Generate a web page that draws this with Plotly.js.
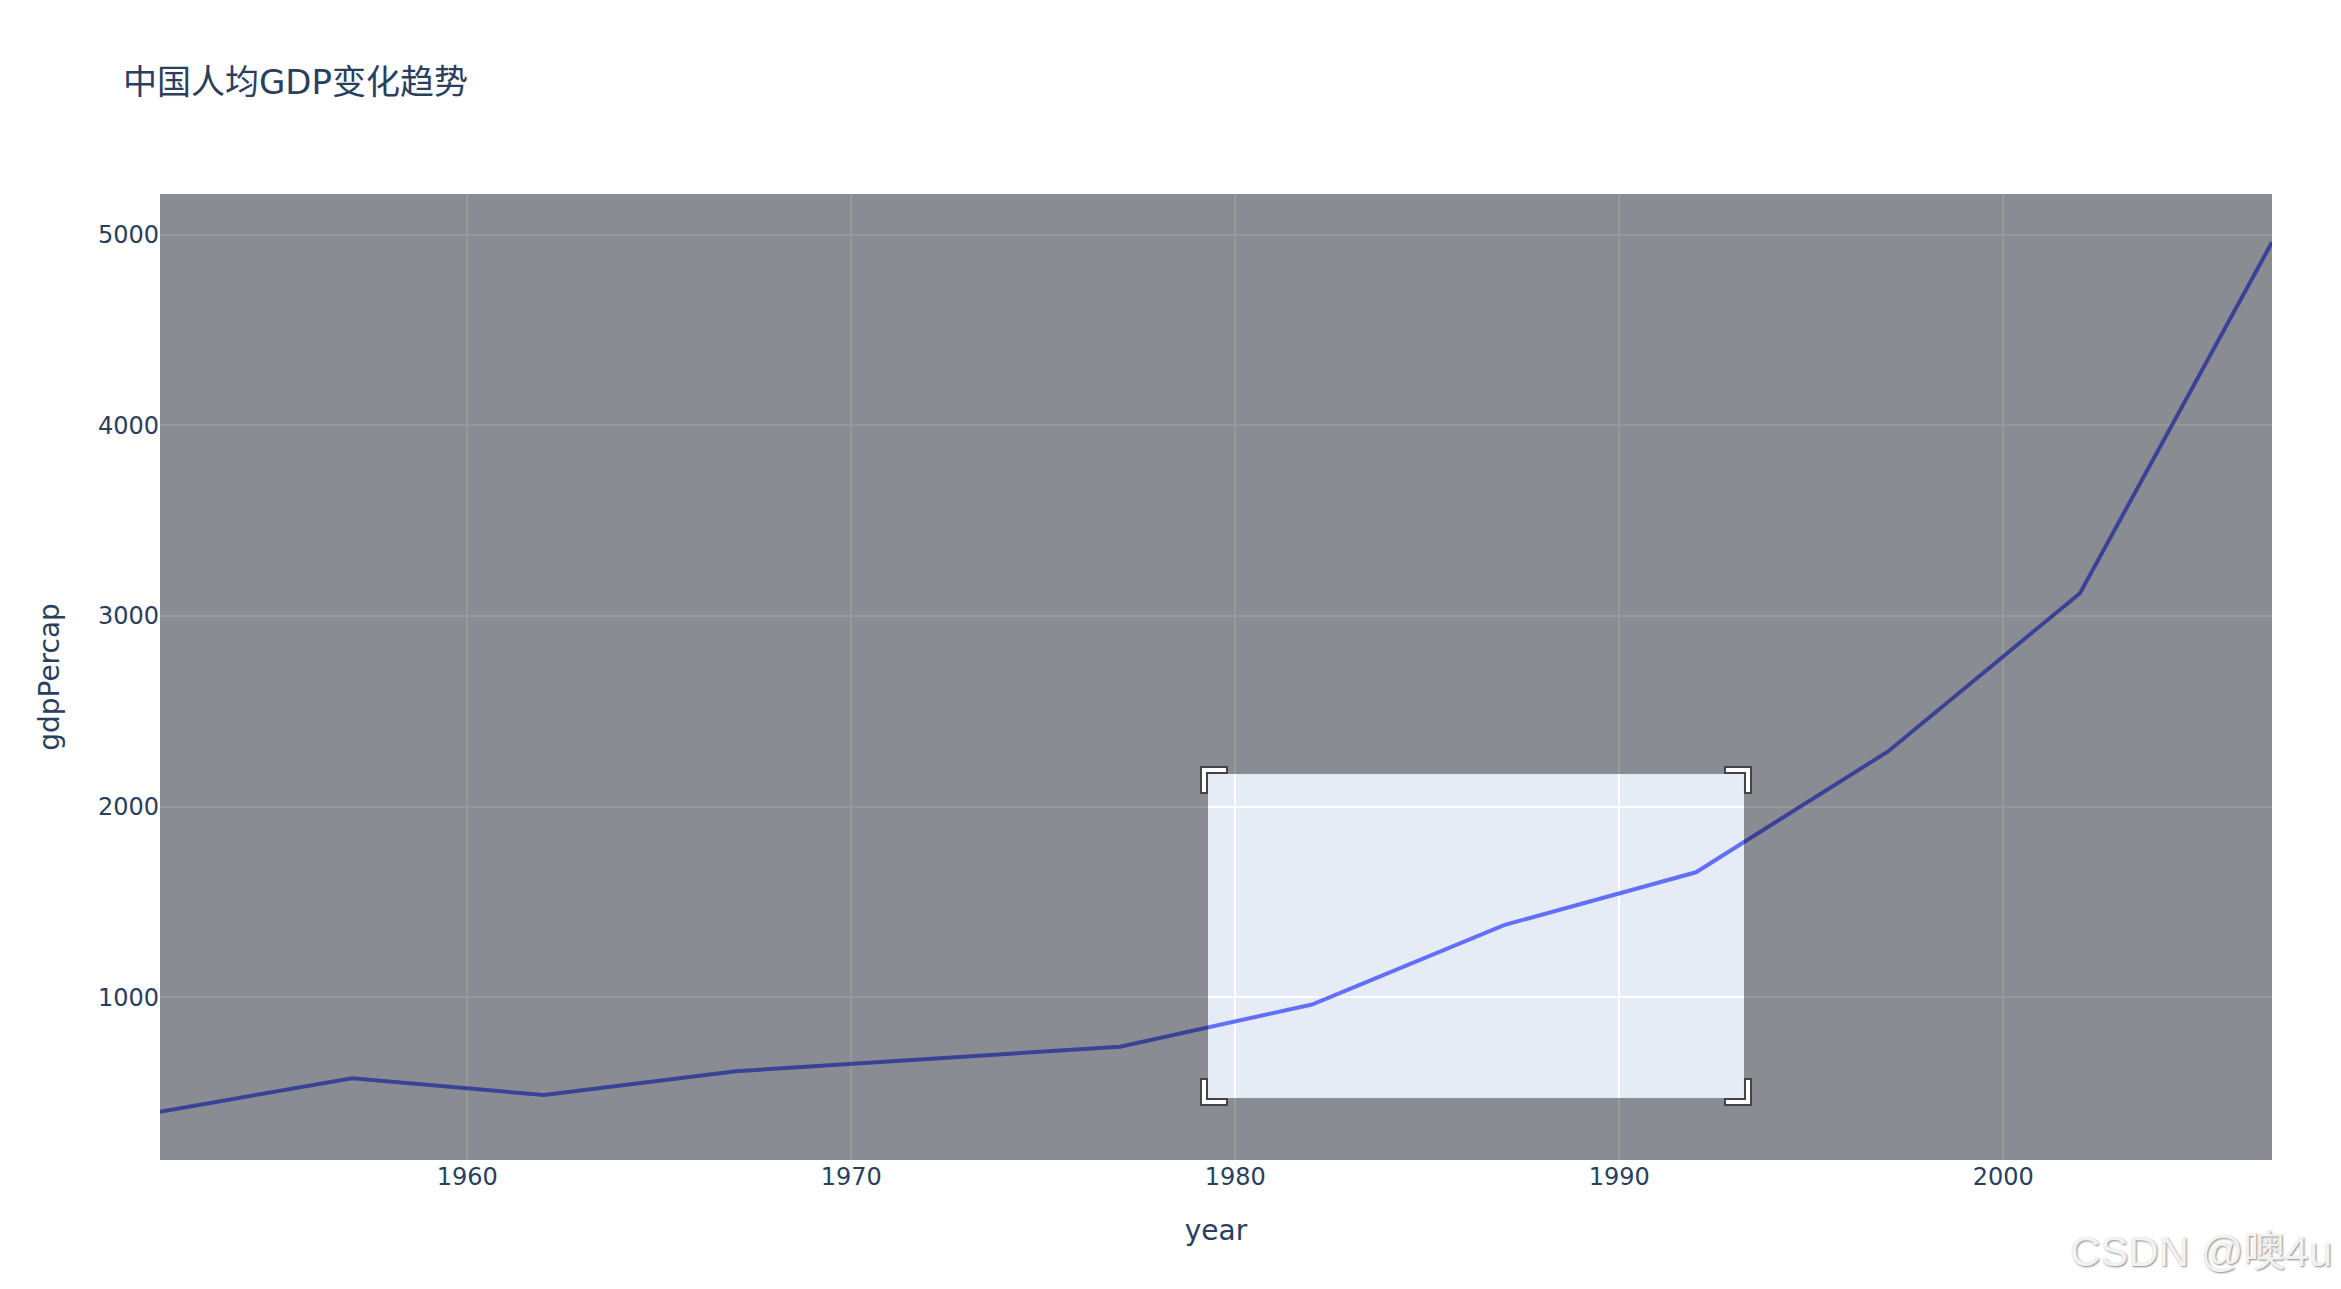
<!DOCTYPE html>
<html>
<head>
<meta charset="utf-8">
<script src="https://cdn.plot.ly/plotly-3.0.1.min.js"></script>
<style>html,body{margin:0;padding:0;background:#fff;}#chart{width:2341px;height:1289px;}</style>
</head>
<body>
<div id="chart"></div>
<script>
// Data: China GDP per capita (gapminder)
var years = [1952, 1957, 1962, 1967, 1972, 1977, 1982, 1987, 1992, 1997, 2002, 2007];
var gdpPercap = [400.45, 575.99, 487.67, 612.71, 676.90, 741.24, 962.42, 1378.90, 1655.78, 2289.23, 3119.28, 4959.11];
var titleText = '中国人均GDP变化趋势';
var xTitle = 'year';
var yTitle = 'gdpPercap';
var watermark = 'CSDN @噢4u';

// layout geometry (pixels)
var W = 2341, H = 1289;
var M = {l: 160, r: 69, t: 194, b: 129};
var PW = W - M.l - M.r, PH = H - M.t - M.b;
// zoom-drag box in pixel coordinates
var box = {l: 1208, t: 774, r: 1744, b: 1098};
var S = 2;

function px(x) { return ((x - M.l) / PW).toFixed(5); }
function py(y) { return ((M.t + PH - y) / PH).toFixed(5); }
function pathFrom(points) {
  return points.map(function (p, i) { return (i ? 'L' : 'M') + px(p[0]) + ',' + py(p[1]); }).join('') + 'Z';
}
// Plotly xy corner brackets
function corners(b) {
  var c = 10 * S, a = 3.5 * S, h = 0.5 * S, k = 3 * S;
  var tl = [[b.l - a, b.t - h + c], [b.l - a + k, b.t - h + c], [b.l - a + k, b.t - h], [b.l - a + k + c, b.t - h], [b.l - a + k + c, b.t - h - k], [b.l - a, b.t - h - k]];
  var tr = [[b.r + a, b.t - h + c], [b.r + a - k, b.t - h + c], [b.r + a - k, b.t - h], [b.r + a - k - c, b.t - h], [b.r + a - k - c, b.t - h - k], [b.r + a, b.t - h - k]];
  var br = [[b.r + a, b.b + h - c], [b.r + a - k, b.b + h - c], [b.r + a - k, b.b + h], [b.r + a - k - c, b.b + h], [b.r + a - k - c, b.b + h + k], [b.r + a, b.b + h + k]];
  var bl = [[b.l - a, b.b + h - c], [b.l - a + k, b.b + h - c], [b.l - a + k, b.b + h], [b.l - a + k + c, b.b + h], [b.l - a + k + c, b.b + h + k], [b.l - a, b.b + h + k]];
  return [tl, tr, br, bl].map(pathFrom).join(' ');
}

var dimPath = 'M0,0L1,0L1,1L0,1Z ' + pathFrom([[box.l, box.b], [box.r, box.b], [box.r, box.t], [box.l, box.t]]);

var fontFam = 'Verdana, "DejaVu Sans", "Noto Sans CJK SC", sans-serif';

var trace = {
  type: 'scatter', mode: 'lines',
  x: years, y: gdpPercap,
  line: {color: '#636efa', width: 2 * S},
  hoverinfo: 'skip'
};

var layout = {
  width: W, height: H,
  margin: M,
  paper_bgcolor: '#ffffff',
  plot_bgcolor: '#E5ECF6',
  font: {family: fontFam, color: '#2a3f5f', size: 12 * S},
  title: {text: titleText, font: {size: 17 * S, color: '#2a3f5f'}, x: 123 / W, xanchor: 'left', xref: 'container',
          y: (H - 82) / H, yanchor: 'middle', yref: 'container', automargin: false},
  showlegend: false,
  xaxis: {
    title: {text: xTitle, font: {size: 14 * S}, standoff: 30},
    tick0: 1960, dtick: 10, showgrid: true, gridcolor: '#ffffff', gridwidth: 1 * S,
    zeroline: false, automargin: false, tickfont: {size: 12 * S}, ticks: ''
  },
  yaxis: {
    title: {text: yTitle, font: {size: 14 * S}, standoff: 30},
    dtick: 1000, showgrid: true, gridcolor: '#ffffff', gridwidth: 1 * S,
    zeroline: false, automargin: false, tickfont: {size: 12 * S}, ticks: ''
  },
  shapes: [
    {type: 'path', xref: 'paper', yref: 'paper', path: dimPath, fillrule: 'evenodd', fillcolor: 'rgba(0,0,0,0.4)', line: {width: 0}, layer: 'above'},
    {type: 'path', xref: 'paper', yref: 'paper', path: corners(box), fillcolor: '#ffffff', line: {color: '#444444', width: 1 * S}, layer: 'above'}
  ],
  annotations: [
    {text: watermark, xref: 'paper', yref: 'paper', x: (2334 - M.l) / PW, y: (M.t + PH - 1251) / PH, xanchor: 'right', yanchor: 'middle', showarrow: false,
     font: {family: '"Liberation Sans", Arial, "Noto Sans CJK SC", sans-serif', size: 42, color: '#f2f2f2', shadow: '1px 1px 2px #8a8a8a'}}
  ]
};

Plotly.newPlot('chart', [trace], layout, {displayModeBar: false, staticPlot: true});
</script>
</body>
</html>
